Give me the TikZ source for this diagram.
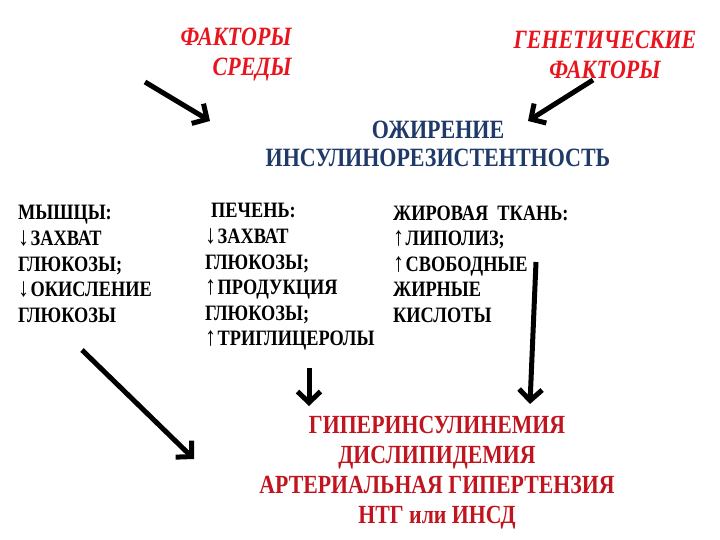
\documentclass[tikz,border=0pt]{standalone}
\usepackage{fontspec}
\setmainfont{Liberation Serif}[BoldFont={Liberation Serif Bold}, BoldItalicFont={Liberation Serif Bold Italic}]
\usetikzlibrary{positioning,arrows.meta}

\definecolor{factred}{HTML}{E8141E}
\definecolor{obblue}{HTML}{1F3A68}
\definecolor{resred}{HTML}{C0141E}

\newcommand{\up}{{\fontsize{22}{0}\selectfont↑}\kern1.5pt}
\newcommand{\dn}{{\fontsize{22}{0}\selectfont↓}\kern1.5pt}

\begin{document}
\begin{tikzpicture}[x=1pt,y=1pt]
		% styles
		\tikzset{
			tall/.style={yscale=1.2, transform shape},
			factor/.style={tall, text=factred, font=\fontsize{22}{25}\selectfont\bfseries\itshape, inner sep=0pt},
			obes/.style={tall, text=obblue, font=\fontsize{22}{23.3}\selectfont\bfseries, align=center, inner sep=0pt},
			organ/.style={tall, font=\fontsize{18.3}{21.3}\selectfont\bfseries, align=left, anchor=west, inner sep=0pt},
			result/.style={tall, text=resred, font=\fontsize{21.8}{25}\selectfont\bfseries, align=center, inner sep=0pt},
			arr/.style={line width=5pt, -{Straight Barb[length=11pt, width=23pt, line width=5pt]}}
		}
		\useasboundingbox (0,0) rectangle (720,540);

		% nodes
		\node[factor, align=right, anchor=east] (env) at (292,485) {ФАКТОРЫ\\СРЕДЫ};
		\node[factor, align=center] (gen) at (605,485) {ГЕНЕТИЧЕСКИЕ\\ФАКТОРЫ};
		\node[obes] (ob) at (438,396) {ОЖИРЕНИЕ\\ИНСУЛИНОРЕЗИСТЕНТНОСТЬ};

		\node[organ] (mus) at (18,276) {МЫШЦЫ:\\\dn ЗАХВАТ\\ГЛЮКОЗЫ;\\\dn ОКИСЛЕНИЕ\\ГЛЮКОЗЫ};
		\node[organ] (liv) at (205,263) {\hspace{6pt}ПЕЧЕНЬ:\\\dn ЗАХВАТ\\ГЛЮКОЗЫ;\\\up ПРОДУКЦИЯ\\ГЛЮКОЗЫ;\\\up ТРИГЛИЦЕРОЛЫ};
		\node[organ] (fat) at (393,276) {ЖИРОВАЯ\ \ ТКАНЬ:\\\up ЛИПОЛИЗ;\\\up СВОБОДНЫЕ\\ЖИРНЫЕ\\КИСЛОТЫ};

		\node[result] (res) at (437,67) {ГИПЕРИНСУЛИНЕМИЯ\\ДИСЛИПИДЕМИЯ\\АРТЕРИАЛЬНАЯ ГИПЕРТЕНЗИЯ\\НТГ или ИНСД};

		% arrow ends
		\coordinate (envout) at (145,458);
		\coordinate (obin1) at (210,419);
		\coordinate (genout) at (593,460);
		\coordinate (obin2) at (528,419);
		\coordinate (musout) at (82,190);
		\coordinate (resin1) at (194,81);
		\coordinate (livout) at (309,172);
		\coordinate (resin2) at (309,134);
		\coordinate (fatout) at (536,278);
		\coordinate (resin3) at (530,136);

		% connections
		\draw[arr] (envout) -- (obin1);
		\draw[arr] (genout) -- (obin2);
		\draw[arr] (musout) -- (resin1);
		\draw[arr] (livout) -- (resin2);
		\draw[arr] (fatout) -- (resin3);
\end{tikzpicture}
\end{document}
